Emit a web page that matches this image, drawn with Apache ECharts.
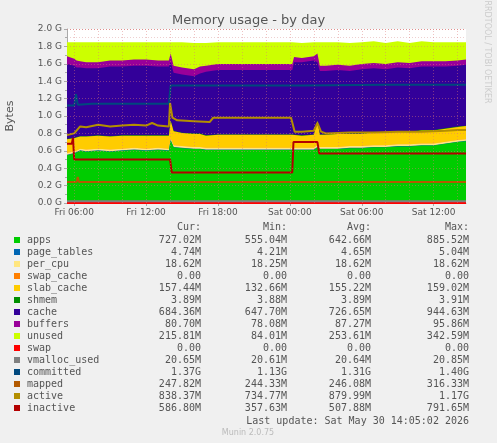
<!DOCTYPE html>
<html><head><meta charset="utf-8">
<script src="https://cdn.jsdelivr.net/npm/echarts@6/dist/echarts.min.js"></script>
<style>html,body{margin:0;padding:0;background:#f0f0f0}#c{width:497px;height:443px}</style>
</head><body><div id="c"></div>
<script>
// time in hours since Fri 00:00; values in G
const T = [5.4,6,6.2,6.5,7,8,9,10,11,12,13,13.9,14.05,14.3,15,16,16.5,17,18,19,20,21,22,23,24.2,24.35,25,26,26.3,26.5,27,28,29,30,31,32,33,34,35,36,37,38,38.7];
const apps = [0.55,0.57,0.58,0.60,0.59,0.60,0.59,0.60,0.61,0.60,0.61,0.60,0.72,0.64,0.63,0.62,0.62,0.61,0.61,0.61,0.61,0.61,0.61,0.61,0.61,0.61,0.61,0.61,0.64,0.62,0.62,0.62,0.63,0.63,0.64,0.64,0.65,0.65,0.66,0.66,0.68,0.70,0.71];
const page_tables = [0.005,0.005,0.005,0.005,0.005,0.005,0.005,0.005,0.005,0.005,0.005,0.005,0.005,0.005,0.005,0.005,0.005,0.005,0.005,0.005,0.005,0.005,0.005,0.005,0.005,0.005,0.005,0.005,0.005,0.005,0.005,0.005,0.005,0.005,0.005,0.005,0.005,0.005,0.005,0.005,0.005,0.005,0.005];
const per_cpu = [0.019,0.019,0.019,0.019,0.019,0.019,0.019,0.019,0.019,0.019,0.019,0.019,0.019,0.019,0.019,0.019,0.019,0.019,0.019,0.019,0.019,0.019,0.019,0.019,0.019,0.019,0.019,0.019,0.019,0.019,0.019,0.019,0.019,0.019,0.019,0.019,0.019,0.019,0.019,0.019,0.019,0.019,0.019];
const swap_cache = [0,0,0,0,0,0,0,0,0,0,0,0,0,0,0,0,0,0,0,0,0,0,0,0,0,0,0,0,0,0,0,0,0,0,0,0,0,0,0,0,0,0,0];
const slab_cache = [0.16,0.15,0.15,0.14,0.15,0.15,0.15,0.15,0.14,0.15,0.14,0.15,0.2,0.16,0.15,0.15,0.15,0.14,0.15,0.15,0.15,0.15,0.15,0.15,0.15,0.15,0.14,0.15,0.28,0.14,0.14,0.15,0.14,0.14,0.15,0.14,0.15,0.14,0.15,0.15,0.15,0.15,0.15];
const shmem = [0.004,0.004,0.004,0.004,0.004,0.004,0.004,0.004,0.004,0.004,0.004,0.004,0.004,0.004,0.004,0.004,0.004,0.004,0.004,0.004,0.004,0.004,0.004,0.004,0.004,0.004,0.004,0.004,0.004,0.004,0.004,0.004,0.004,0.004,0.004,0.004,0.004,0.004,0.004,0.004,0.004,0.004,0.004];
const cache = [0.86,0.83,0.80,0.79,0.78,0.77,0.80,0.79,0.80,0.80,0.79,0.79,0.67,0.67,0.67,0.66,0.69,0.73,0.74,0.74,0.74,0.74,0.74,0.74,0.74,0.83,0.84,0.85,0.67,0.73,0.73,0.73,0.72,0.74,0.73,0.73,0.73,0.73,0.73,0.73,0.71,0.70,0.70];
const buffers = [0.09,0.08,0.08,0.07,0.07,0.07,0.07,0.07,0.07,0.07,0.07,0.07,0.1,0.08,0.08,0.08,0.08,0.07,0.07,0.07,0.07,0.07,0.07,0.07,0.07,0.06,0.05,0.05,0.1,0.06,0.06,0.06,0.06,0.06,0.06,0.06,0.06,0.06,0.06,0.06,0.06,0.06,0.06];
const unused = [0.16,0.19,0.21,0.22,0.23,0.23,0.21,0.21,0.20,0.20,0.21,0.21,0.13,0.27,0.29,0.30,0.27,0.26,0.25,0.25,0.25,0.25,0.25,0.25,0.25,0.17,0.17,0.16,0.13,0.27,0.27,0.26,0.26,0.25,0.25,0.24,0.24,0.23,0.23,0.22,0.22,0.21,0.20];
// line series: [hour, G]
const swapLine = [[5.4,0],[38.7,0]];
const vmalloc = [[5.4,0.021],[38.7,0.021]];
const committed = [[5.4,1.12],[6.0,1.12],[6.15,1.25],[6.3,1.13],[7.5,1.14],[13.9,1.14],[14.05,1.35],[25,1.35],[32,1.36],[38.7,1.36]];
const mapped = [[5.4,0.24],[6.2,0.24],[6.3,0.3],[6.4,0.24],[38.7,0.24]];
const active = [[5.4,0.78],[6.0,0.8],[6.5,0.88],[7,0.87],[8,0.9],[9,0.88],[10,0.89],[11,0.9],[12,0.89],[12.5,0.92],[13,0.89],[13.9,0.88],[14.0,1.15],[14.2,0.98],[14.6,0.95],[16,0.94],[17.3,0.93],[17.6,0.98],[24.1,0.98],[24.4,0.82],[25,0.82],[26.0,0.83],[26.3,0.92],[26.6,0.82],[27,0.80],[29,0.81],[31,0.81],[33,0.82],[35,0.82],[37,0.83],[38,0.84],[38.7,0.84]];
const inactive = [[5.4,0.68],[5.8,0.68],[5.9,0.75],[6.0,0.5],[14.0,0.5],[14.15,0.35],[24.2,0.35],[24.3,0.7],[26.3,0.7],[26.45,0.57],[38.7,0.57]];
const names = ['apps','page_tables','per_cpu','swap_cache','slab_cache','shmem','cache','buffers','unused','swap','vmalloc_used','committed','mapped','active','inactive'];
const colors = ['#00cc00','#0066b3','#ffe680','#ff8000','#ffcc00','#008f00','#330099','#990099','#ccff00','#ff0000','#808080','#00487d','#b35a00','#b38f00','#b30000'];
const cur = ['727.02M','4.74M','18.62M','0.00','157.44M','3.89M','684.36M','80.70M','215.81M','0.00','20.65M','1.37G','247.82M','838.37M','586.80M'];
const mins = ['555.04M','4.21M','18.25M','0.00','132.66M','3.88M','647.70M','78.08M','84.01M','0.00','20.61M','1.13G','244.33M','734.77M','357.63M'];
const avgs = ['642.66M','4.65M','18.62M','0.00','155.22M','3.89M','726.65M','87.27M','253.61M','0.00','20.64M','1.31G','246.08M','879.99M','507.88M'];
const maxs = ['885.52M','5.04M','18.62M','0.00','159.02M','3.91M','944.63M','95.86M','342.59M','0.00','20.85M','1.40G','316.33M','1.17G','791.65M'];
const xTicks = [6,12,18,24,30,36];
const xTickLabels = ['Fri 06:00','Fri 12:00','Fri 18:00','Sat 00:00','Sat 06:00','Sat 12:00'];
const xGrid = [6,8,10,12,14,16,18,20,22,24,26,28,30,32,34,36,38];
const yGrid = [0.2,0.4,0.6,0.8,1.0,1.2,1.4,1.6,1.8,2.0];

const stackData = [apps,page_tables,per_cpu,swap_cache,slab_cache,shmem,cache,buffers,unused];
const lineData = [swapLine,vmalloc,committed,mapped,active,inactive];
const series = [];
// running stack totals (areas painted top-down so lower layers cover higher ones)
const cum = T.map(()=>0);
const stacked = stackData.map(arr=>arr.map((v,j)=>(cum[j]+=v)));
stacked.forEach((tops,i)=>{
  series.push({name:names[i],type:'line',symbol:'none',data:T.map((t,j)=>[t,tops[j]]),
    lineStyle:{width:0},areaStyle:{color:colors[i],opacity:1,origin:'start'},itemStyle:{color:colors[i]},z:2,
    silent:true});
});
series.reverse();
lineData.forEach((arr,k)=>{
  const i=9+k;
  series.push({name:names[i],type:'line',symbol:'none',data:arr,lineStyle:{width:2,color:colors[i]},z:4});
});
series.push({type:'line',data:[],markLine:{silent:true,symbol:'none',label:{show:false},
  lineStyle:{type:[1,2],color:'rgba(220,120,120,0.45)',width:1},
  data:xGrid.map(v=>({xAxis:v})).concat(yGrid.map(v=>({yAxis:v})))},z:3});

const g = [];
const font='10px "DejaVu Sans Mono"';
const hy=227, y0=240, dy=12;
[['Cur:',201],['Min:',287],['Avg:',371],['Max:',469]].forEach(([t,x])=>g.push({type:'text',x:x,y:hy,style:{text:t,font:font,fill:'#555',align:'right',verticalAlign:'middle'}}));
names.forEach((n,i)=>{
  const y=y0+i*dy;
  g.push({type:'rect',shape:{x:14,y:y-3,width:6,height:6},style:{fill:colors[i]}});
  g.push({type:'text',x:27,y:y,style:{text:n,font:font,fill:'#555',verticalAlign:'middle'}});
  [[cur,201],[mins,287],[avgs,371],[maxs,469]].forEach(([a,x])=>g.push({type:'text',x:x,y:y,style:{text:a[i],font:font,fill:'#555',align:'right',verticalAlign:'middle'}}));
});
g.push({type:'text',x:469,y:421,style:{text:'Last update: Sat May 30 14:05:02 2026',font:font,fill:'#555',align:'right',verticalAlign:'middle'}});
g.push({type:'text',x:248,y:433,style:{text:'Munin 2.0.75',font:'8px "DejaVu Sans"',fill:'#bbb',align:'center',verticalAlign:'middle'}});
g.push({type:'text',x:487,y:52,rotation:-Math.PI/2,style:{text:'RRDTOOL / TOBI OETIKER',font:'8px "DejaVu Sans"',fill:'#ccc',align:'center',verticalAlign:'middle'}});
g.push({type:'text',x:10,y:116,rotation:Math.PI/2,style:{text:'Bytes',font:'11px "DejaVu Sans"',fill:'#555',align:'center',verticalAlign:'middle'}});

const chart = echarts.init(document.getElementById('c'),null,{renderer:'canvas'});
chart.setOption({
  backgroundColor:'#f0f0f0',animation:false,
  title:{text:'Memory usage - by day',left:'center',top:9,textStyle:{fontFamily:'DejaVu Sans',fontSize:13,fontWeight:'normal',color:'#555'}},
  grid:{left:67,right:31,top:29,bottom:240,backgroundColor:'#fff',show:true,borderWidth:0},
  xAxis:{type:'value',min:5.4,max:38.7,
    axisLine:{lineStyle:{color:'#aaa'}},
    axisTick:{customValues:xTicks,lineStyle:{color:'#aaa'},length:3},
    axisLabel:{customValues:xTicks,formatter:v=>xTickLabels[xTicks.indexOf(v)],fontFamily:'DejaVu Sans',fontSize:9,color:'#555',margin:5},
    splitLine:{show:false}},
  yAxis:{type:'value',min:0,max:2.0,interval:0.2,
    axisLine:{show:true,lineStyle:{color:'#aaa'}},axisTick:{show:true,length:3,lineStyle:{color:'#aaa'}},
    axisLabel:{formatter:v=>v.toFixed(1)+' G',fontFamily:'DejaVu Sans',fontSize:9,color:'#555',margin:5},
    splitLine:{lineStyle:{type:[1,2],color:'#e0a0a0'}},
    minorTick:{show:true,splitNumber:2,length:2},minorSplitLine:{show:true,lineStyle:{type:[1,2],color:'#eed0d0'}}},
  series:series,
  graphic:g
});
</script></body></html>
